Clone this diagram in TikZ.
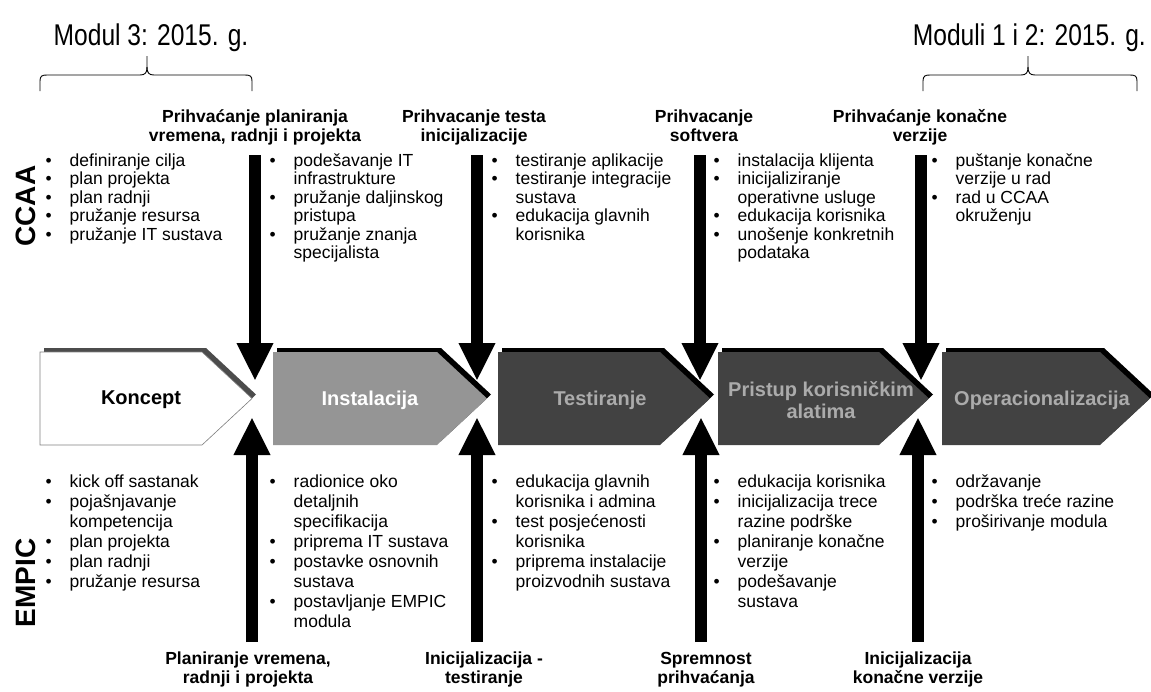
\documentclass[tikz,border=0pt]{standalone}
\usepackage{fontspec}
\setmainfont{Liberation Sans}
\newfontfamily\narrowfont{Liberation Sans}[FakeStretch=0.82]
\usetikzlibrary{arrows.meta}
\definecolor{midfill}{HTML}{959595}
\definecolor{darkfill}{HTML}{424242}
\definecolor{darktext}{HTML}{ABABAB}
\newcommand\bu{\strut\makebox[24pt][l]{\textbullet}}
\newcommand\ct{\strut\hspace*{24pt}}
\newcommand\twolines[2]{\strut #1\\\strut #2}
\newcommand\chevpath[2]{(#1,352) -- ({#2-50},352) -- (#2,398.5) -- ({#2-50},445) -- (#1,445) -- cycle}
\begin{document}
\begin{tikzpicture}[x=1pt,y=-1pt,
  ccaatext/.style={anchor=north west, inner sep=0, align=left, font=\fontsize{17.5}{18.5}\selectfont},
  empictext/.style={anchor=north west, inner sep=0, align=left, font=\fontsize{17.5}{20}\selectfont},
  milestone/.style={align=center, inner sep=0, font=\bfseries\fontsize{17.5}{19}\selectfont},
  bigarrow/.style={line width=12pt, -{Triangle[length=38pt,width=34pt]}},
  chevtext/.style={align=center, inner sep=0, font=\bfseries\fontsize{20}{22}\selectfont},
  sidelabel/.style={rotate=90, inner sep=0, font=\bfseries\fontsize{28}{30}\selectfont},
  titletext/.style={inner sep=0, font=\narrowfont\fontsize{30}{32}\selectfont},
  bracepath/.style={draw, line width=0.9pt, line join=round}]
\useasboundingbox (0,0) rectangle (1151,691);
\fill[white] (0,0) rectangle (1151,691);

% titles
\node[titletext, anchor=base] (t1) at (151,45) {Modul 3: 2015. g.};
\node[titletext, anchor=base east] (t2) at (1146,45) {Moduli 1 i 2: 2015. g.};

% braces
\draw[bracepath] (40,91) -- (40,81) .. controls (40,76) and (42,75) .. (47,75) -- (140,75)
  .. controls (145,75) and (147,73) .. (147,67) -- (147,56);
\draw[bracepath] (147,67) .. controls (147,73) and (149,75) .. (154,75) -- (245,75)
  .. controls (250,75) and (252,76) .. (252,81) -- (252,91);
\draw[bracepath] (923,91) -- (923,81) .. controls (923,76) and (925,75) .. (930,75) -- (1021,75)
  .. controls (1026,75) and (1028,73) .. (1028,67) -- (1028,56);
\draw[bracepath] (1028,67) .. controls (1028,73) and (1030,75) .. (1035,75) -- (1130,75)
  .. controls (1135,75) and (1137,76) .. (1137,81) -- (1137,91);

% side labels
\node[sidelabel] (ccaa) at (26,206) {CCAA};
\node[sidelabel] (empic) at (26,583) {EMPIC};

% chevron shadows and bodies
\fill[gray!60!black, xshift=4pt, yshift=4pt] \chevpath{40}{252};
\filldraw[fill=white, draw=gray, line width=0.6pt] \chevpath{40}{252};
\fill[black, xshift=4pt, yshift=4pt] \chevpath{273}{487};
\fill[midfill] \chevpath{273}{487};
\fill[black, xshift=4pt, yshift=4pt] \chevpath{498}{710};
\fill[darkfill] \chevpath{498}{710};
\fill[black, xshift=4pt, yshift=4pt] \chevpath{718}{929};
\fill[darkfill] \chevpath{718}{929};
\fill[black, xshift=4pt, yshift=4pt] \chevpath{942}{1150};
\fill[darkfill] \chevpath{942}{1150};

\node[chevtext] (koncept) at (141,400) {Koncept};
\node[chevtext, text=white] (instal) at (370,400) {Instalacija};
\node[chevtext, text=darktext] (testir) at (600,400) {Testiranje};
\node[chevtext, text=darktext] (pristup) at (821,400) {Pristup korisničkim\\alatima};
\node[chevtext, text=darktext] (operac) at (1042,400) {Operacionalizacija};

% top milestones
\node[milestone] (m1) at (255,128) {\twolines{Prihvaćanje planiranja}{vremena, radnji i projekta}};
\node[milestone] (m2) at (474,128) {\twolines{Prihvacanje testa}{inicijalizacije}};
\node[milestone] (m3) at (704,128) {\twolines{Prihvacanje}{softvera}};
\node[milestone] (m4) at (920,128) {\twolines{Prihvaćanje konačne}{verzije}};

% bottom milestones
\node[milestone] (b1) at (248,670) {\twolines{Planiranje vremena,}{radnji i projekta}};
\node[milestone] (b2) at (484,670) {\twolines{Inicijalizacija -}{testiranje}};
\node[milestone] (b3) at (706,670) {\twolines{Spremnost}{prihvaćanja}};
\node[milestone] (b4) at (918,670) {\twolines{Inicijalizacija}{konačne verzije}};

% arrows
\coordinate (d1s) at (255,155); \coordinate (d1e) at (255,381);
\coordinate (d2s) at (477,155); \coordinate (d2e) at (477,381);
\coordinate (d3s) at (700,155); \coordinate (d3e) at (700,381);
\coordinate (d4s) at (921,155); \coordinate (d4e) at (921,381);
\coordinate (u1s) at (252,642); \coordinate (u1e) at (252,417);
\coordinate (u2s) at (477,642); \coordinate (u2e) at (477,417);
\coordinate (u3s) at (701,642); \coordinate (u3e) at (701,417);
\coordinate (u4s) at (918,642); \coordinate (u4e) at (918,417);
\foreach \a in {d1,d2,d3,d4,u1,u2,u3,u4} \draw[bigarrow] (\a s) -- (\a e);

% CCAA columns
\node[ccaatext] (c1) at (45.5,153) {\bu definiranje cilja\\\bu plan projekta\\\bu plan radnji\\\bu pružanje resursa\\\bu pružanje IT sustava};
\node[ccaatext] (c2) at (269.5,153) {\bu podešavanje IT\\\ct infrastrukture\\\bu pružanje daljinskog\\\ct pristupa\\\bu pružanje znanja\\\ct specijalista};
\node[ccaatext] (c3) at (491.5,153) {\bu testiranje aplikacije\\\bu testiranje integracije\\\ct sustava\\\bu edukacija glavnih\\\ct korisnika};
\node[ccaatext] (c4) at (713.5,153) {\bu instalacija klijenta\\\bu inicijaliziranje\\\ct operativne usluge\\\bu edukacija korisnika\\\bu unošenje konkretnih\\\ct podataka};
\node[ccaatext] (c5) at (931.5,153) {\bu puštanje konačne\\\ct verzije u rad\\\bu rad u CCAA\\\ct okruženju};

% EMPIC columns
\node[empictext] (e1) at (45.5,473.5) {\bu kick off sastanak\\\bu pojašnjavanje\\\ct kompetencija\\\bu plan projekta\\\bu plan radnji\\\bu pružanje resursa};
\node[empictext] (e2) at (269.5,473.5) {\bu radionice oko\\\ct detaljnih\\\ct specifikacija\\\bu priprema IT sustava\\\bu postavke osnovnih\\\ct sustava\\\bu postavljanje EMPIC\\\ct modula};
\node[empictext] (e3) at (491.5,473.5) {\bu edukacija glavnih\\\ct korisnika i admina\\\bu test posjećenosti\\\ct korisnika\\\bu priprema instalacije\\\ct proizvodnih sustava};
\node[empictext] (e4) at (713.5,473.5) {\bu edukacija korisnika\\\bu inicijalizacija trece\\\ct razine podrške\\\bu planiranje konačne\\\ct verzije\\\bu podešavanje\\\ct sustava};
\node[empictext] (e5) at (931.5,473.5) {\bu održavanje\\\bu podrška treće razine\\\bu proširivanje modula};
\end{tikzpicture}
\end{document}
